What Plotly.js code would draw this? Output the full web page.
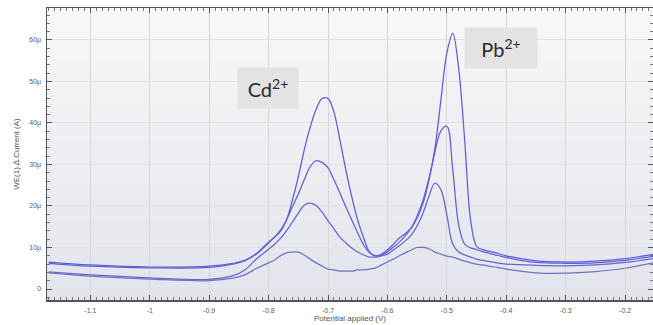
<!DOCTYPE html>
<html>
<head>
<meta charset="utf-8">
<script src="https://cdn.plot.ly/plotly-3.0.1.min.js"></script>
<style>html,body{margin:0;padding:0;background:#fff;}#chart{width:653px;height:325px;}</style>
</head>
<body>
<div id="chart"></div>
<script>
// Potential applied (V)
const potential = [-1.17, -1.1, -1.0, -0.9, -0.86, -0.84, -0.82,
  -0.80, -0.79, -0.78, -0.77, -0.76, -0.75, -0.74, -0.73, -0.72, -0.71,
  -0.70, -0.69, -0.68, -0.67, -0.66, -0.65, -0.64, -0.63, -0.62, -0.61,
  -0.60, -0.59, -0.58, -0.57, -0.56, -0.55, -0.54, -0.53, -0.52, -0.51,
  -0.50, -0.49, -0.48, -0.47, -0.46, -0.45, -0.44,
  -0.42, -0.40, -0.35, -0.30, -0.25, -0.20, -0.15];

// WE(1).∆.Current in µA
const current1 = [6.5, 5.8, 5.3, 5.5, 6.2, 6.9, 8.6,
  11.3, 12.5, 13.9, 16.6, 21.4, 27.0, 33.5, 39.0, 43.3, 45.9,
  45.9, 42.6, 35.9, 28.7, 22.2, 16.6, 12.3, 8.9, 8.0, 8.4,
  9.4, 10.8, 12.3, 13.3, 14.7, 17.1, 20.7, 26.3, 34.0, 45.5,
  56.8, 61.6, 53.0, 35.9, 16.6, 10.3, 9.5,
  8.8, 8.0, 6.8, 6.5, 6.7, 7.3, 8.4];

const current2 = [6.2, 5.5, 5.1, 5.2, 6.0, 6.8, 8.5,
  11.1, 12.5, 14.2, 16.6, 19.8, 22.9, 26.3, 29.5, 30.9, 30.5,
  29.2, 26.3, 23.1, 19.8, 16.6, 13.5, 10.6, 8.7, 8.0, 8.2,
  8.9, 10.1, 11.3, 12.8, 14.7, 17.6, 21.4, 26.7, 33.0, 38.1,
  39.2, 28.7, 15.4, 10.8, 9.9, 9.5, 9.0,
  8.3, 7.6, 6.4, 6.2, 6.3, 6.9, 7.9];

const current3 = [4.1, 3.4, 2.7, 2.3, 3.2, 4.6, 7.3,
  9.6, 10.8, 12.2, 14.0, 16.1, 18.3, 20.2, 20.7, 20.1, 18.5,
  16.4, 14.5, 12.5, 11.1, 9.9, 8.9, 8.2, 7.7, 7.7, 8.0,
  8.4, 9.4, 10.4, 11.6, 13.0, 15.2, 18.3, 22.4, 25.5, 23.9,
  17.8, 10.8, 8.9, 8.2, 7.7, 7.2, 6.9,
  6.4, 6.0, 5.7, 5.6, 5.8, 6.4, 7.4];

const current4 = [3.9, 3.1, 2.4, 2.0, 2.6, 3.4, 5.0,
  6.3, 7.0, 8.0, 8.7, 8.9, 8.9, 8.2, 7.2, 6.3, 5.5,
  4.8, 4.6, 4.3, 4.3, 4.3, 4.6, 4.6, 4.8, 5.1, 5.8,
  6.5, 7.2, 8.0, 8.7, 9.4, 10.0, 10.0, 9.7, 8.9, 8.4,
  7.9, 7.7, 7.2, 6.7, 6.3, 6.0, 5.8,
  5.3, 4.8, 3.9, 3.8, 4.2, 5.0, 6.4];

const xTickVals = [-1.1, -1.0, -0.9, -0.8, -0.7, -0.6, -0.5, -0.4, -0.3, -0.2];
const xTickLabels = ["-1.1", "-1", "-0.9", "-0.8", "-0.7", "-0.6", "-0.5", "-0.4", "-0.3", "-0.2"];
const yTickVals = [0, 10, 20, 30, 40, 50, 60];
const yTickLabels = ["0", "10µ", "20µ", "30µ", "40µ", "50µ", "60µ"];

const series = [current1, current2, current3, current4];
const lineColors = ["rgb(92,92,222)", "rgb(96,96,214)", "rgb(100,100,210)", "rgb(112,112,196)"];

const traces = series.map((s, i) => ({
  x: potential, y: s, type: "scatter", mode: "lines",
  line: {color: lineColors[i], width: 1.25, shape: "spline", smoothing: 1},
  hoverinfo: "skip", showlegend: false
}));

// background gradient bands (style only)
const shapes = [];
const nBands = 40;
for (let k = 0; k < nBands; k++) {
  const t = k / (nBands - 1);
  const r = Math.round(248 - t * 21), g = Math.round(248 - t * 21), b = Math.round(248 - t * 12);
  shapes.push({type: "rect", xref: "paper", yref: "paper", layer: "below",
    x0: 0, x1: 1, y0: 1 - (k + 1) / nBands, y1: 1 - k / nBands,
    fillcolor: `rgb(${r},${g},${b})`, line: {width: 0}});
}

const tickFont = {family: "Liberation Sans, Arial, sans-serif", size: 7, color: "#5a5a5a"};

const layout = {
  width: 653, height: 325,
  margin: {l: 47, r: 0, t: 8, b: 25},
  paper_bgcolor: "#ffffff", plot_bgcolor: "#f0f0f0",
  shapes: shapes,
  xaxis: {
    range: [-1.173, -0.153], tickvals: xTickVals, ticktext: xTickLabels,
    ticks: "inside", ticklen: 5, tickcolor: "#555", tickwidth: 1,
    minor: {dtick: 0.01, tick0: 0, ticks: "inside", ticklen: 3, tickcolor: "#777", showgrid: false},
    showgrid: true, gridcolor: "#d6d6d6", gridwidth: 1,
    showline: true, linecolor: "#555", linewidth: 1.5, mirror: "allticks",
    zeroline: false, tickfont: tickFont, ticklabelstandoff: 3,
    title: {text: "Potential applied (V)", font: {family: "Liberation Sans, Arial, sans-serif", size: 8, color: "#555"}, standoff: 2}
  },
  yaxis: {
    range: [-2.65, 67.7], tickvals: yTickVals, ticktext: yTickLabels,
    ticks: "inside", ticklen: 5, tickcolor: "#555", tickwidth: 1,
    minor: {dtick: 2, tick0: 0, ticks: "inside", ticklen: 3, tickcolor: "#777", showgrid: false},
    showgrid: true, gridcolor: "#e2e2e2", gridwidth: 1,
    showline: true, linecolor: "#555", linewidth: 1.5, mirror: "allticks",
    zeroline: false, tickfont: tickFont, ticklabelstandoff: 3,
    title: {text: "WE(1).∆.Current (A)", font: {family: "Liberation Sans, Arial, sans-serif", size: 8, color: "#555"}, standoff: 8}
  },
  annotations: [
    {x: -0.801, y: 48.4, xref: "x", yref: "y", text: "Cd<sup>2+</sup>", showarrow: false,
     font: {family: "Lato, Open Sans, sans-serif", size: 20, color: "#2a2a2a"},
     bgcolor: "#e3e3e3", width: 54, height: 34, borderpad: 3},
    {x: -0.409, y: 58.1, xref: "x", yref: "y", text: "Pb<sup>2+</sup>", showarrow: false,
     font: {family: "Lato, Open Sans, sans-serif", size: 20, color: "#2a2a2a"},
     bgcolor: "#e3e3e3", width: 66, height: 34, borderpad: 3}
  ]
};

Plotly.newPlot("chart", traces, layout, {displayModeBar: false, staticPlot: true});
</script>
</body>
</html>
